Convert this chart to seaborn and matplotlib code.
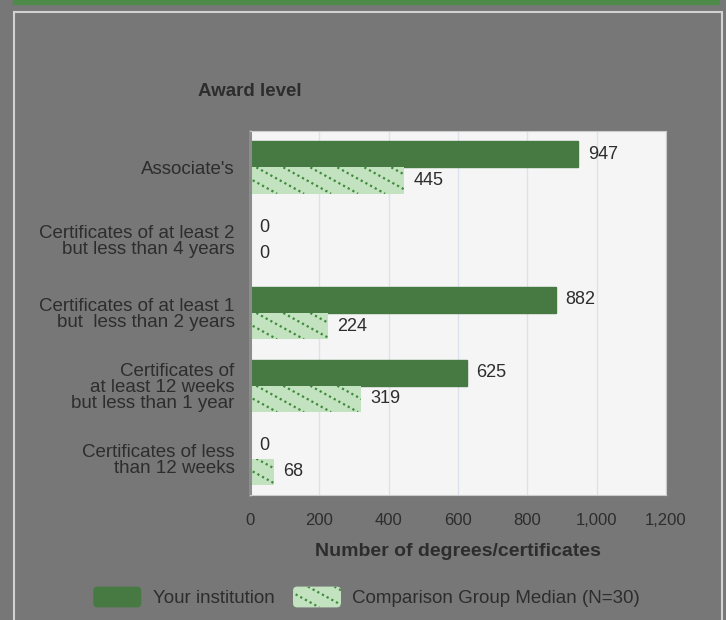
import pandas as pd
import numpy as np
import matplotlib
matplotlib.use("Agg")
import matplotlib.pyplot as plt
import matplotlib.patches as mpatches
from matplotlib.lines import Line2D
from matplotlib.legend_handler import HandlerBase
from matplotlib.transforms import IdentityTransform
from matplotlib.ticker import FuncFormatter, FixedLocator
import seaborn as sns

categories = [
    "Associate's",
    "Certificates of at least 2\nbut less than 4 years",
    "Certificates of at least 1\nbut  less than 2 years",
    "Certificates of\nat least 12 weeks\nbut less than 1 year",
    "Certificates of less\nthan 12 weeks",
]
your_institution = [947, 0, 882, 625, 0]
comparison_median = [445, 0, 224, 319, 68]
series_names = ["Your institution", "Comparison Group Median (N=30)"]
x_ticks = [0, 200, 400, 600, 800, 1000, 1200]

df = pd.DataFrame({
    "category": categories * 2,
    "value": your_institution + comparison_median,
    "series": [series_names[0]] * len(categories) + [series_names[1]] * len(categories),
})

sns.set_style("white")
plt.rcParams["font.family"] = ["Liberation Sans", "DejaVu Sans"]

bg = "#777778"
dark_green = "#477a43"
light_green = "#c3e2c0"
dot_green = "#3f8a3c"
text_col = "#2d2d2d"
DOTS = dict(color=dot_green, linewidth=1.6, linestyle=(0, (1, 1.4)), dash_capstyle="butt")


def dotted_texture(patch, x0, y0, x1, y1, step, transform):
    # shallow dotted diagonals clipped to the patch (decoration only)
    slope = 0.55
    h = y1 - y0
    start = x0 - h / slope
    arts = []
    for xs in np.arange(start, x1 + step, step):
        ln = Line2D([xs, xs + h / slope], [y1, y0], transform=transform, **DOTS)
        ln.set_clip_path(patch)
        arts.append(ln)
    return arts


class DottedHandler(HandlerBase):
    def create_artists(self, legend, orig_handle, xdescent, ydescent, width, height,
                       fontsize, trans):
        box = mpatches.FancyBboxPatch((-xdescent, -ydescent), width, height,
                                      boxstyle="round,pad=0,rounding_size=3",
                                      facecolor=orig_handle.get_facecolor(),
                                      edgecolor="none", transform=trans)
        arts = [box]
        if orig_handle.get_label() == "dots":
            arts += dotted_texture(box, -xdescent, -ydescent,
                                   -xdescent + width, -ydescent + height, 19, trans)
        return arts


fig = plt.figure(figsize=(7.26, 6.2), dpi=100, facecolor=bg)

# frame decorations
fig.patches.append(mpatches.Rectangle((13 / 726, 1 - 4 / 620), 706 / 726, 4 / 620,
                                      transform=fig.transFigure, color="#4e8a4a", zorder=0))
fig.patches.append(mpatches.Rectangle((13.5 / 726, -0.05), 708.5 / 726, 1 - 12 / 620 + 0.05,
                                      transform=fig.transFigure, fill=False,
                                      edgecolor="#d2d2d2", linewidth=1.5, zorder=0))

ax = fig.add_axes([250 / 726, 1 - 495 / 620, 416 / 726, 364 / 620])
ax.set_facecolor("#f5f5f5")

sns.barplot(data=df, y="category", x="value", hue="series", orient="h",
            palette=[dark_green, light_green], width=0.72, ax=ax,
            legend=False, saturation=1)

ax.set_xlim(0, 1200)
ax.set_ylim(4.5, -0.5)

for bar in ax.containers[0]:
    bar.set_edgecolor(dark_green)
for bar in ax.containers[1]:
    bar.set_linewidth(0)
    bb = bar.get_window_extent()
    if bb.width > 1:
        for ln in dotted_texture(bar, bb.x0, bb.y0, bb.x1, bb.y1, 27, IdentityTransform()):
            fig.add_artist(ln)

for cont in ax.containers:
    ax.bar_label(cont, labels=[f"{v:,.0f}" for v in cont.datavalues], padding=7,
                 fontsize=13, color=text_col)

ax.xaxis.set_major_locator(FixedLocator(x_ticks))
ax.xaxis.set_major_formatter(FuncFormatter(lambda v, p: f"{v:,.0f}"))
ax.grid(axis="x", color="#dbe2ee", linewidth=1)
ax.set_axisbelow(True)
ax.tick_params(axis="x", length=0, pad=13, labelsize=12, labelcolor=text_col)
ax.tick_params(axis="y", length=0, pad=11, labelsize=13.5, labelcolor=text_col)
for lbl in ax.get_yticklabels():
    lbl.set_linespacing(0.92)
ax.yaxis.set_minor_locator(FixedLocator(np.arange(-0.5, 5, 1)))
ax.tick_params(axis="y", which="minor", length=5, direction="inout", color="#999999")

for s in ["top", "right", "bottom"]:
    ax.spines[s].set_color("#cccccc")
ax.spines["left"].set_color("#8c8c8c")
ax.spines["left"].set_linewidth(2.2)

ax.set_ylabel("")
ax.set_xlabel("Number of degrees/certificates", fontsize=14, fontweight="bold",
              color=text_col, labelpad=11)

fig.text(250 / 726, 1 - 91 / 620, "Award level", ha="center", va="center",
         fontsize=13.5, fontweight="bold", color=text_col)

handles = [
    mpatches.Patch(facecolor=dark_green, label="solid"),
    mpatches.Patch(facecolor=light_green, label="dots"),
]
fig.legend(handles, series_names, loc="center", bbox_to_anchor=(0.505, 1 - 597 / 620),
           ncol=2, frameon=False, fontsize=13.5, labelcolor=text_col,
           handlelength=2.56, handleheight=1.33, columnspacing=1.0, handletextpad=0.6,
           handler_map={mpatches.Patch: DottedHandler()})

fig.savefig("out.png", dpi=100, facecolor=bg)
